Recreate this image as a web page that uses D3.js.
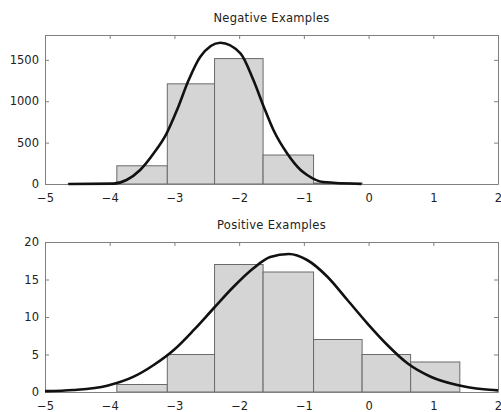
<!DOCTYPE html>
<html>
<head>
<meta charset="utf-8">
<script src="https://cdn.jsdelivr.net/npm/d3@7"></script>
<style>
  body { margin: 0; background: #fff; }
  text { font-family: "DejaVu Sans", sans-serif; fill: #222; }
</style>
</head>
<body>
<div id="chart"></div>
<script>
// datos
const xTicks = [-5, -4, -3, -2, -1, 0, 1, 2];

const negTitle = "Negative Examples";
const negYTicks = [0, 500, 1000, 1500];
const negEdges = [-4.64, -3.89, -3.11, -2.38, -1.63, -0.85, -0.10];
const negCounts = [6, 220, 1210, 1515, 350, 12];
const negCurveX = [-4.64, -3.94, -3.74, -3.53, -3.32, -3.12, -2.96, -2.78, -2.60, -2.29, -1.98, -1.78, -1.62, -1.47, -1.26, -1.05, -0.95, -0.70, -0.11];
const negCurveY = [0, 5, 48, 169, 371, 612, 894, 1256, 1538, 1707, 1579, 1256, 934, 652, 371, 169, 109, 24, 0];

const posTitle = "Positive Examples";
const posYTicks = [0, 5, 10, 15, 20];
const posEdges = [-3.89, -3.11, -2.38, -1.63, -0.85, -0.10, 0.65, 1.41];
const posCounts = [1, 5, 17, 16, 7, 5, 4];
const posCurveX = [-5, -4.56, -4.04, -3.63, -3.32, -3.01, -2.70, -2.39, -2.09, -1.78, -1.52, -1.23, -0.95, -0.64, -0.33, -0.02, 0.29, 0.60, 0.96, 1.37, 1.78, 2];
const posCurveY = [0.12, 0.27, 0.84, 2.04, 3.6, 5.6, 8.27, 11.2, 14.0, 16.5, 18.0, 18.4, 17.6, 15.4, 12.3, 9.16, 6.27, 3.83, 2.04, 0.93, 0.36, 0.22];

const width = 501, height = 412;

const svg = d3.select('#chart').append('svg')
    .attr('width', width)
    .attr('height', height);

const fmt = d => d < 0 ? '\u2212' + Math.abs(d) : String(d);

function panel(cfg) {
    const left = 45, right = 498;
    const top = cfg.top, bottom = cfg.bottom;

    const x = d3.scaleLinear().domain([-5, 2]).range([left, right]);
    const y = d3.scaleLinear().domain([0, cfg.yMax]).range([bottom, top]);

    const g = svg.append('g');

    // barras del histograma
    const bins = cfg.counts.map((c, i) => ({ x0: cfg.edges[i], x1: cfg.edges[i + 1], n: c }));
    g.selectAll('rect.bar')
        .data(bins)
        .enter().append('rect')
        .attr('class', 'bar')
        .attr('x', d => x(d.x0))
        .attr('width', d => x(d.x1) - x(d.x0))
        .attr('y', d => y(d.n))
        .attr('height', d => y(0) - y(d.n))
        .attr('fill', '#d5d5d5')
        .attr('stroke', '#6a6a6a')
        .attr('stroke-width', 1);

    // ejes
    const axisStyle = sel => {
        sel.selectAll('path.domain').attr('stroke', '#808080');
        sel.selectAll('line').attr('stroke', '#808080');
        sel.selectAll('text').attr('fill', '#222').style('font-size', '11.5px')
            .style('font-family', '"DejaVu Sans", sans-serif');
    };

    g.append('g')
        .attr('transform', `translate(0,${bottom})`)
        .call(d3.axisBottom(x).tickValues(xTicks).tickFormat(fmt).tickSize(0).tickPadding(10))
        .call(axisStyle);

    g.append('g')
        .attr('transform', `translate(0,${top})`)
        .call(d3.axisTop(x).tickValues(xTicks).tickFormat('').tickSizeInner(-4).tickSizeOuter(0))
        .call(axisStyle);

    g.append('g')
        .attr('transform', `translate(${left},0)`)
        .call(d3.axisLeft(y).tickValues(cfg.yTicks).tickFormat(fmt).tickSizeInner(-4).tickSizeOuter(0).tickPadding(6))
        .call(axisStyle);

    g.append('g')
        .attr('transform', `translate(${right},0)`)
        .call(d3.axisRight(y).tickValues(cfg.yTicks).tickFormat('').tickSizeInner(-4).tickSizeOuter(0))
        .call(axisStyle);

    // curva ajustada
    const pts = cfg.curveX.map((v, i) => [v, cfg.curveY[i]]);
    const line = d3.line()
        .x(d => x(d[0]))
        .y(d => y(d[1]))
        .curve(d3.curveMonotoneX);

    g.append('path')
        .datum(pts)
        .attr('d', line)
        .attr('fill', 'none')
        .attr('stroke', '#111')
        .attr('stroke-width', 2.6)
        .attr('stroke-linejoin', 'round');

    // titulo
    g.append('text')
        .attr('x', (left + right) / 2)
        .attr('y', top - 13)
        .attr('text-anchor', 'middle')
        .style('font-size', '11.5px')
        .style('letter-spacing', '0.3px')
        .text(cfg.title);
}

panel({ title: negTitle, top: 35, bottom: 184, yMax: 1800, yTicks: negYTicks,
        edges: negEdges, counts: negCounts, curveX: negCurveX, curveY: negCurveY });

panel({ title: posTitle, top: 242, bottom: 392, yMax: 20, yTicks: posYTicks,
        edges: posEdges, counts: posCounts, curveX: posCurveX, curveY: posCurveY });
</script>
</body>
</html>
